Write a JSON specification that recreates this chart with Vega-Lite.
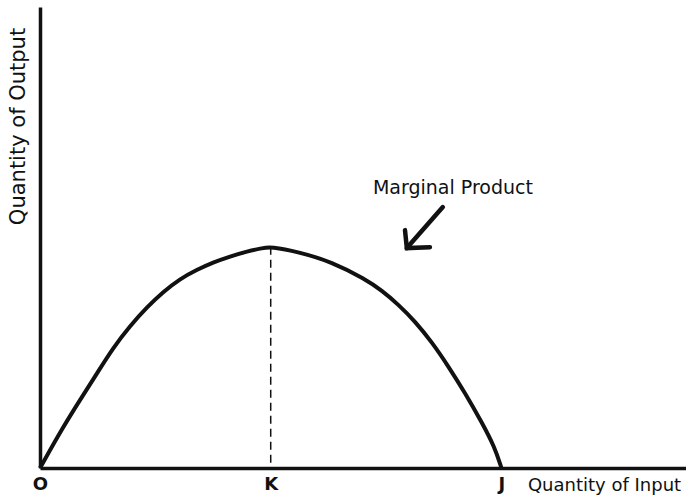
{
  "$schema": "https://vega.github.io/schema/vega-lite/v6.json",
  "width": 646,
  "height": 461,
  "autosize": {"type": "none"},
  "padding": {"left": 40, "top": 7, "right": 0, "bottom": 29},
  "background": "white",
  "config": {"view": {"stroke": null}},
  "datasets": {
    "curve": [
      {"x": 0, "y": 0},
      {"x": 0.5, "y": 0.89},
      {"x": 0.87, "y": 1.48},
      {"x": 1.24, "y": 2.06},
      {"x": 1.58, "y": 2.6},
      {"x": 1.95, "y": 3.08},
      {"x": 2.32, "y": 3.49},
      {"x": 2.67, "y": 3.82},
      {"x": 3.03, "y": 4.1},
      {"x": 3.4, "y": 4.3},
      {"x": 3.75, "y": 4.46},
      {"x": 4.12, "y": 4.59},
      {"x": 4.49, "y": 4.7},
      {"x": 4.83, "y": 4.77},
      {"x": 5.0, "y": 4.8},
      {"x": 5.59, "y": 4.69},
      {"x": 6.33, "y": 4.47},
      {"x": 7.04, "y": 4.1},
      {"x": 7.41, "y": 3.85},
      {"x": 7.76, "y": 3.55},
      {"x": 8.13, "y": 3.18},
      {"x": 8.5, "y": 2.72},
      {"x": 8.84, "y": 2.22},
      {"x": 9.21, "y": 1.63},
      {"x": 9.58, "y": 0.98},
      {"x": 9.85, "y": 0.46},
      {"x": 10.0, "y": 0}
    ],
    "peak": [{"x": 5, "y": 4.8, "y0": 0}],
    "arrow": [
      {"seg": "shaft", "ord": 1, "x": 8.73, "y": 5.66},
      {"seg": "shaft", "ord": 2, "x": 7.95, "y": 4.77},
      {"seg": "head", "ord": 1, "x": 7.91, "y": 5.16},
      {"seg": "head", "ord": 2, "x": 7.95, "y": 4.77},
      {"seg": "head", "ord": 3, "x": 8.45, "y": 4.79}
    ],
    "note": [{"x": 8.95, "y": 6.07, "text": "Marginal Product"}]
  },
  "encoding": {
    "x": {
      "field": "x", "type": "quantitative",
      "scale": {"domain": [0, 14], "nice": false, "zero": false},
      "axis": {
        "values": [0, 5, 10],
        "labelExpr": "datum.value == 0 ? 'O' : (datum.value == 5 ? 'K' : 'J')",
        "ticks": false, "grid": false,
        "domainColor": "#111111", "domainWidth": 3.5,
        "labelFont": "DejaVu Sans", "labelFontWeight": "bold", "labelFontSize": 18,
        "labelColor": "#111111", "labelPadding": 7, "labelFlush": false, "labelOverlap": false,
        "title": "Quantity of Input",
        "titleFont": "DejaVu Sans", "titleFontWeight": "normal", "titleFontSize": 18,
        "titleColor": "#111111",
        "titleX": 564, "titleY": 17, "titleAlign": "center", "titleBaseline": "middle", "titleAnchor": null
      }
    },
    "y": {
      "field": "y", "type": "quantitative",
      "scale": {"domain": [0, 10], "nice": false, "zero": false},
      "axis": {
        "ticks": false, "labels": false, "grid": false,
        "domainColor": "#111111", "domainWidth": 3.5,
        "title": "Quantity of Output",
        "titleFont": "DejaVu Sans", "titleFontWeight": "normal", "titleFontSize": 21,
        "titleColor": "#111111", "titleAngle": -90,
        "titleX": -22, "titleY": 119, "titleAlign": "center", "titleBaseline": "middle", "titleAnchor": null
      }
    }
  },
  "layer": [
    {
      "data": {"name": "curve"},
      "mark": {"type": "line", "color": "#111111", "strokeWidth": 4, "interpolate": "basis"}
    },
    {
      "data": {"name": "peak"},
      "mark": {"type": "rule", "color": "#111111", "strokeWidth": 1.5, "strokeDash": [8, 5]},
      "encoding": {
        "y2": {"field": "y0"}
      }
    },
    {
      "data": {"name": "arrow"},
      "mark": {"type": "line", "color": "#111111", "strokeWidth": 4.5, "strokeCap": "round", "strokeJoin": "miter"},
      "encoding": {
        "detail": {"field": "seg"},
        "order": {"field": "ord"}
      }
    },
    {
      "data": {"name": "note"},
      "mark": {"type": "text", "font": "DejaVu Sans", "fontSize": 19, "color": "#111111", "align": "center", "baseline": "middle"},
      "encoding": {
        "text": {"field": "text"}
      }
    }
  ]
}
